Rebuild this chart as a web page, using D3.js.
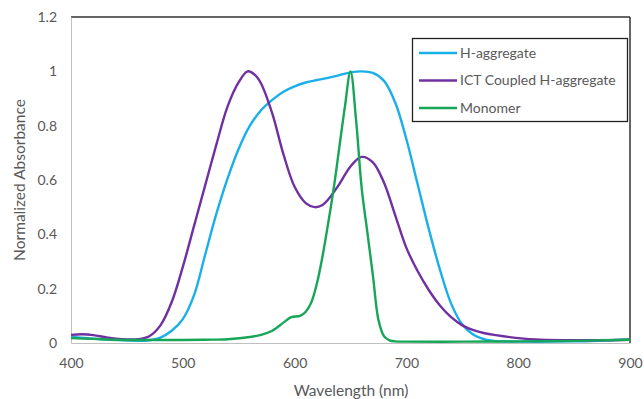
<!DOCTYPE html>
<html>
<head>
<meta charset="utf-8">
<script src="https://cdn.jsdelivr.net/npm/d3@7"></script>
<style>
  html, body { margin: 0; padding: 0; background: #fff; }
  svg { display: block; }
  text { font-family: Lato, "Liberation Sans", sans-serif; fill: #595959; }
</style>
</head>
<body>
<svg id="chart" width="644" height="399"></svg>
<script>
// Absorption spectra (normalized), wavelength in nm
const hAggWl  = [400,420,440,460,470,480,490,500,510,520,530,540,550,560,570,580,590,600,610,620,630,640,650,660,670,680,690,700,710,720,730,740,750,760,770,780,800,850,900];
const hAggAbs = [0.022,0.016,0.011,0.008,0.010,0.020,0.045,0.088,0.175,0.325,0.475,0.605,0.715,0.800,0.857,0.895,0.925,0.945,0.959,0.968,0.976,0.986,0.996,1.000,0.994,0.965,0.885,0.750,0.585,0.420,0.270,0.145,0.068,0.030,0.013,0.007,0.005,0.006,0.013];

const ictWl  = [400,410,420,430,440,450,460,470,480,490,500,510,520,530,540,550,558,565,570,580,590,600,610,618,625,630,640,650,660,670,680,690,700,710,720,730,740,750,760,770,780,800,820,850,900];
const ictAbs = [0.030,0.032,0.029,0.022,0.016,0.013,0.014,0.025,0.065,0.150,0.280,0.430,0.580,0.730,0.870,0.960,1.000,0.985,0.955,0.845,0.695,0.575,0.515,0.500,0.508,0.528,0.585,0.650,0.685,0.665,0.590,0.470,0.350,0.265,0.195,0.138,0.095,0.065,0.047,0.036,0.029,0.018,0.012,0.010,0.012];

const monoWl  = [400,420,440,460,480,500,520,540,560,570,580,590,597,605,610,615,620,625,630,635,640,645,650,655,660,665,670,675,680,685,690,700,750,800,850,900];
const monoAbs = [0.018,0.015,0.012,0.011,0.011,0.011,0.012,0.014,0.022,0.030,0.045,0.075,0.095,0.100,0.115,0.150,0.220,0.320,0.440,0.570,0.720,0.870,1.000,0.820,0.570,0.410,0.250,0.085,0.025,0.010,0.006,0.005,0.005,0.006,0.008,0.012];

const seriesNames  = ["H-aggregate", "ICT Coupled H-aggregate", "Monomer"];
const seriesColors = ["#1aafe8", "#7030a0", "#17a558"];

const xTicks = [400, 500, 600, 700, 800, 900];
const yTicks = [0, 0.2, 0.4, 0.6, 0.8, 1, 1.2];
const yTickLabels = ["0", "0.2", "0.4", "0.6", "0.8", "1", "1.2"];

const xTitle = "Wavelength (nm)";
const yTitle = "Normalized Absorbance";

// Layout
const plot = { left: 71, top: 17, right: 630, bottom: 343 };

const svg = d3.select("#chart");

const x = d3.scaleLinear().domain([400, 900]).range([plot.left, plot.right]);
const y = d3.scaleLinear().domain([0, 1.2]).range([plot.bottom, plot.top]);

// Plot frame: dark top/right, light grey axes on left/bottom
svg.append("line").attr("x1", plot.left).attr("x2", plot.right)
  .attr("y1", plot.top).attr("y2", plot.top)
  .attr("stroke", "#333").attr("stroke-width", 1.5);
svg.append("line").attr("x1", plot.right).attr("x2", plot.right)
  .attr("y1", plot.top).attr("y2", plot.bottom)
  .attr("stroke", "#333").attr("stroke-width", 1.5);

const yAxis = svg.append("g")
  .attr("transform", `translate(${plot.left},0)`)
  .call(d3.axisLeft(y).tickValues(yTicks).tickSize(0).tickPadding(14)
    .tickFormat((d, i) => yTickLabels[i]));
yAxis.select(".domain").attr("stroke", "#c0c0c0").attr("stroke-width", 1);
yAxis.selectAll("text").style("font-size", "14px").attr("fill", "#595959")
  .style("font-family", "Lato, 'Liberation Sans', sans-serif");

const xAxis = svg.append("g")
  .attr("transform", `translate(0,${plot.bottom})`)
  .call(d3.axisBottom(x).tickValues(xTicks).tickSize(0).tickPadding(15)
    .tickFormat(d3.format("d")));
xAxis.select(".domain").attr("stroke", "#c0c0c0").attr("stroke-width", 1);
xAxis.selectAll("text").style("font-size", "14px").attr("fill", "#595959")
  .style("font-family", "Lato, 'Liberation Sans', sans-serif");

// Axis titles
svg.append("text")
  .attr("x", (plot.left + plot.right) / 2 + 0.5)
  .attr("y", 396)
  .attr("text-anchor", "middle")
  .style("font-size", "15.5px")
  .text(xTitle);

svg.append("text")
  .attr("transform", `translate(25,${(plot.top + plot.bottom) / 2}) rotate(-90)`)
  .attr("text-anchor", "middle")
  .style("font-size", "15.5px")
  .text(yTitle);

// Spectra
const line = d3.line()
  .x(d => x(d[0]))
  .y(d => y(d[1]))
  .curve(d3.curveCatmullRom.alpha(0.5));

const series = [
  d3.zip(hAggWl, hAggAbs),
  d3.zip(ictWl, ictAbs),
  d3.zip(monoWl, monoAbs)
];

svg.append("g").selectAll("path")
  .data(series)
  .join("path")
  .attr("d", line)
  .attr("fill", "none")
  .attr("stroke", (d, i) => seriesColors[i])
  .attr("stroke-width", 2.4)
  .attr("stroke-linejoin", "round");

// Legend
const legend = svg.append("g");
legend.append("rect")
  .attr("x", 412.5).attr("y", 38.5)
  .attr("width", 215).attr("height", 83)
  .attr("fill", "#fff").attr("stroke", "#222").attr("stroke-width", 1.3);

const legendRowY = [53, 80.5, 108];
const items = legend.selectAll("g.item")
  .data(seriesNames)
  .join("g")
  .attr("class", "item")
  .attr("transform", (d, i) => `translate(0,${legendRowY[i]})`);
items.append("line")
  .attr("x1", 419).attr("x2", 457)
  .attr("stroke", (d, i) => seriesColors[i])
  .attr("stroke-width", 2.4);
items.append("text")
  .attr("x", 460).attr("dy", "0.35em")
  .style("font-size", "14px")
  .text(d => d);
</script>
</body>
</html>
